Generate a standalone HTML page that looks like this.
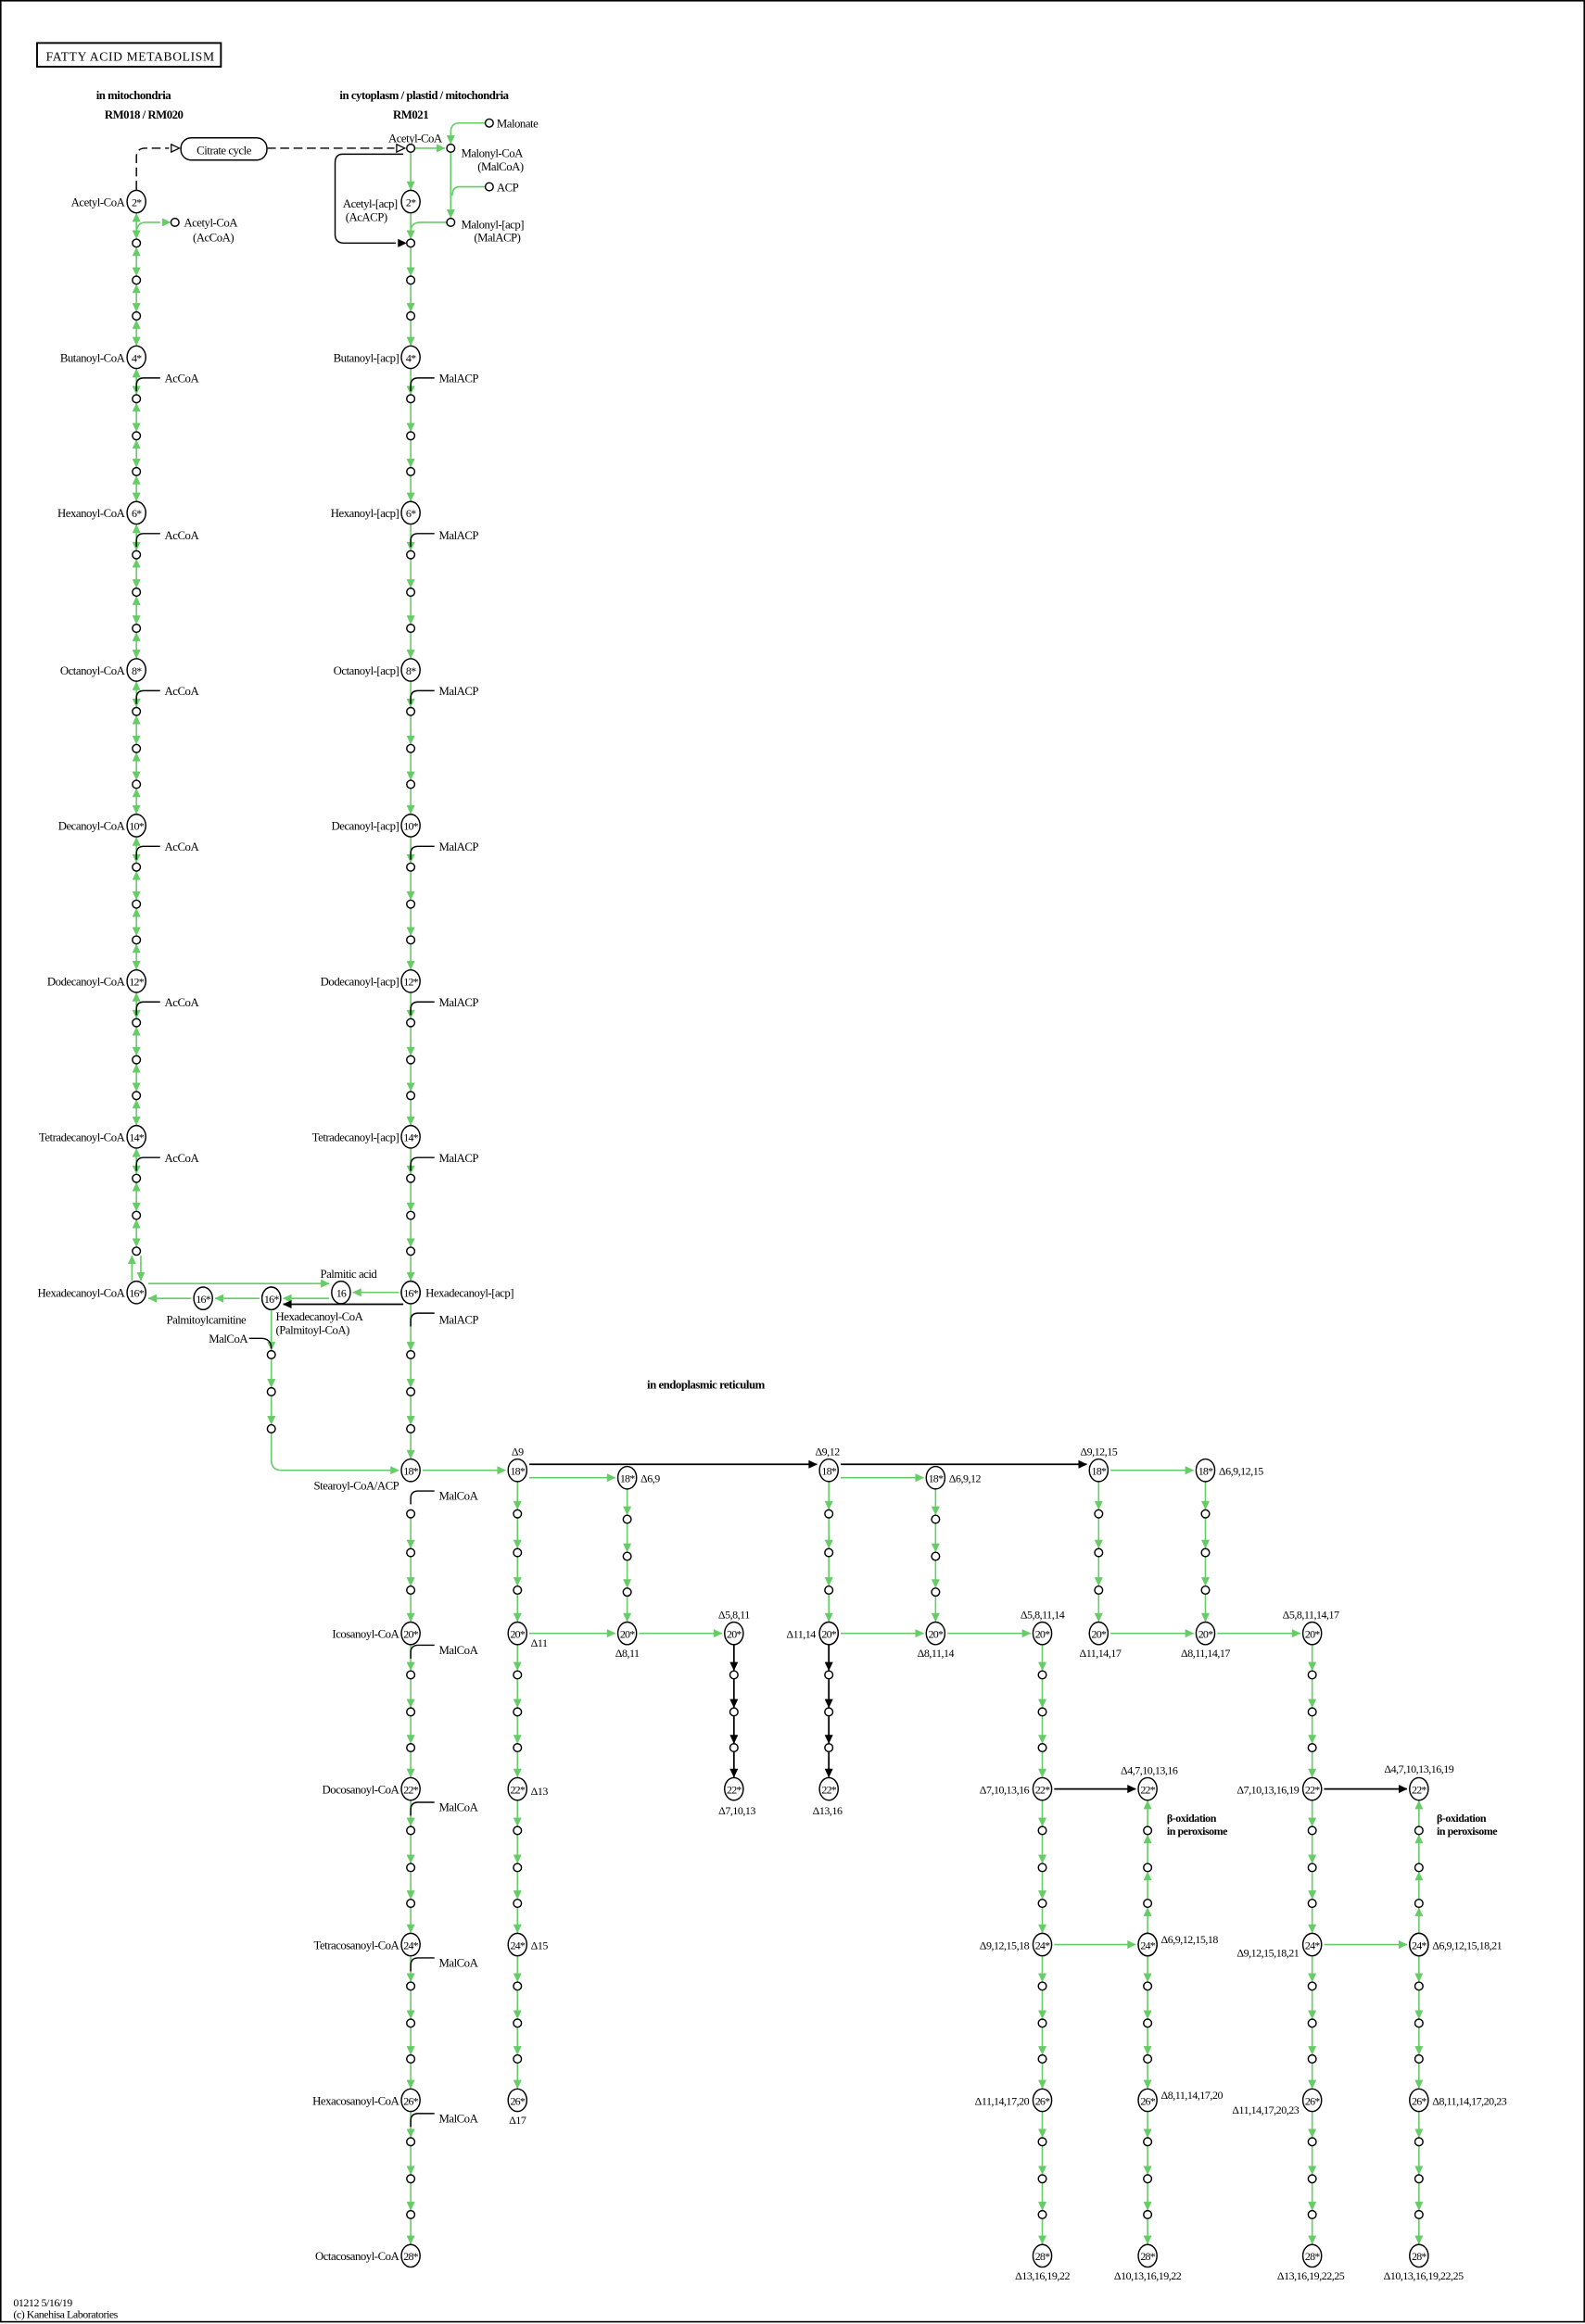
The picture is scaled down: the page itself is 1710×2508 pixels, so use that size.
<!DOCTYPE html>
<html><head><meta charset="utf-8"><style>
html,body{margin:0;padding:0;background:#fff;}
svg{display:block;}
text{font-family:"Liberation Serif",serif;font-size:8px;fill:#000;letter-spacing:-0.3px;}
.b{font-weight:bold;}
.m{text-anchor:middle;}
.e{text-anchor:end;}
.c{font-size:7.5px;}
</style></head><body>
<svg id="s" xmlns="http://www.w3.org/2000/svg" width="1710" height="2508" viewBox="0 0 1069 1568" preserveAspectRatio="none">
<rect x="0.5" y="0.5" width="1068" height="1566" fill="#fff" stroke="#000" stroke-width="1"/>
<g id="g"></g>
<rect x="25" y="29" width="124" height="16" fill="none" stroke="#000" stroke-width="1.2"/>
<text x="31" y="41" style="font-family:'Liberation Serif',serif;font-size:8.5px;letter-spacing:0.4px">FATTY ACID METABOLISM</text>
<text class="b m" x="90" y="67">in mitochondria</text>
<text class="b m" x="97" y="80">RM018 / RM020</text>
<text class="b m" x="286" y="67">in cytoplasm / plastid / mitochondria</text>
<text class="b m" x="277" y="80">RM021</text>
<rect x="122" y="93" width="58" height="15" rx="7" fill="#fff" stroke="#000" stroke-width="0.9"/>
<text class="m" x="151" y="104">Citrate cycle</text>
<text x="335" y="86">Malonate</text>
<text class="e" x="298" y="96">Acetyl-CoA</text>
<text x="311" y="106">Malonyl-CoA</text>
<text class="e" x="353" y="115">(MalCoA)</text>
<text x="335" y="129">ACP</text>
<text x="311" y="154">Malonyl-[acp]</text>
<text class="e" x="351" y="163">(MalACP)</text>
<text x="124" y="153">Acetyl-CoA</text>
<text x="130" y="163">(AcCoA)</text>
<text class="e" x="268" y="140">Acetyl-[acp]</text>
<text x="233" y="149">(AcACP)</text>
<text class="e" x="84" y="139">Acetyl-CoA</text>
<text class="e" x="84" y="244">Butanoyl-CoA</text>
<text class="e" x="84" y="349">Hexanoyl-CoA</text>
<text class="e" x="84" y="455">Octanoyl-CoA</text>
<text class="e" x="84" y="560">Decanoyl-CoA</text>
<text class="e" x="84" y="665">Dodecanoyl-CoA</text>
<text class="e" x="84" y="770">Tetradecanoyl-CoA</text>
<text class="e" x="84" y="875">Hexadecanoyl-CoA</text>
<text x="111" y="258">AcCoA</text><text x="111" y="364">AcCoA</text><text x="111" y="469">AcCoA</text>
<text x="111" y="574">AcCoA</text><text x="111" y="679">AcCoA</text><text x="111" y="784">AcCoA</text>
<text class="e" x="269" y="244">Butanoyl-[acp]</text>
<text class="e" x="269" y="349">Hexanoyl-[acp]</text>
<text class="e" x="269" y="455">Octanoyl-[acp]</text>
<text class="e" x="269" y="560">Decanoyl-[acp]</text>
<text class="e" x="269" y="665">Dodecanoyl-[acp]</text>
<text class="e" x="269" y="770">Tetradecanoyl-[acp]</text>
<text x="287" y="875">Hexadecanoyl-[acp]</text>
<text x="296" y="258">MalACP</text><text x="296" y="364">MalACP</text><text x="296" y="469">MalACP</text>
<text x="296" y="574">MalACP</text><text x="296" y="679">MalACP</text><text x="296" y="784">MalACP</text>
<text x="296" y="893">MalACP</text>
<text class="m" x="235" y="862">Palmitic acid</text>
<text class="m" x="139" y="893">Palmitoylcarnitine</text>
<text x="186" y="891">Hexadecanoyl-CoA</text>
<text x="186" y="900">(Palmitoyl-CoA)</text>
<text class="e" x="167" y="906">MalCoA</text>
<text class="b m" x="476" y="937">in endoplasmic reticulum</text>
<text class="e" x="269" y="1005">Stearoyl-CoA/ACP</text>
<text x="296" y="1012">MalCoA</text><text x="296" y="1116">MalCoA</text><text x="296" y="1222">MalCoA</text>
<text x="296" y="1327">MalCoA</text><text x="296" y="1432">MalCoA</text>
<text class="e" x="269" y="1105">Icosanoyl-CoA</text>
<text class="e" x="269" y="1210">Docosanoyl-CoA</text>
<text class="e" x="269" y="1315">Tetracosanoyl-CoA</text>
<text class="e" x="269" y="1420">Hexacosanoyl-CoA</text>
<text class="e" x="269" y="1525">Octacosanoyl-CoA</text>
<text class="m c" x="349" y="982">Δ9</text>
<text class="m c" x="558" y="982">Δ9,12</text>
<text class="m c" x="741" y="982">Δ9,12,15</text>
<text class="c" x="432" y="1000">Δ6,9</text>
<text class="c" x="640" y="1000">Δ6,9,12</text>
<text class="c" x="822" y="995">Δ6,9,12,15</text>
<text class="c" x="358" y="1111">Δ11</text>
<text class="m c" x="423" y="1118">Δ8,11</text>
<text class="m c" x="495" y="1092">Δ5,8,11</text>
<text class="e c" x="550" y="1105">Δ11,14</text>
<text class="m c" x="631" y="1118">Δ8,11,14</text>
<text class="m c" x="703" y="1092">Δ5,8,11,14</text>
<text class="m c" x="742" y="1118">Δ11,14,17</text>
<text class="m c" x="813" y="1118">Δ8,11,14,17</text>
<text class="m c" x="884" y="1092">Δ5,8,11,14,17</text>
<text class="c" x="358" y="1211">Δ13</text>
<text class="m c" x="497" y="1224">Δ7,10,13</text>
<text class="m c" x="558" y="1224">Δ13,16</text>
<text class="e c" x="694" y="1210">Δ7,10,13,16</text>
<text class="m c" x="775" y="1197">Δ4,7,10,13,16</text>
<text class="e c" x="876" y="1210">Δ7,10,13,16,19</text>
<text class="m c" x="957" y="1196">Δ4,7,10,13,16,19</text>
<text class="b c" x="787" y="1229">β-oxidation</text>
<text class="b c" x="787" y="1238">in peroxisome</text>
<text class="b c" x="969" y="1229">β-oxidation</text>
<text class="b c" x="969" y="1238">in peroxisome</text>
<text class="c" x="358" y="1315">Δ15</text>
<text class="e c" x="694" y="1315">Δ9,12,15,18</text>
<text class="c" x="783" y="1311">Δ6,9,12,15,18</text>
<text class="e c" x="876" y="1320">Δ9,12,15,18,21</text>
<text class="c" x="966" y="1315">Δ6,9,12,15,18,21</text>
<text class="m c" x="349" y="1433">Δ17</text>
<text class="e c" x="694" y="1420">Δ11,14,17,20</text>
<text class="c" x="783" y="1416">Δ8,11,14,17,20</text>
<text class="e c" x="876" y="1426">Δ11,14,17,20,23</text>
<text class="c" x="966" y="1420">Δ8,11,14,17,20,23</text>
<text class="m c" x="703" y="1538">Δ13,16,19,22</text>
<text class="m c" x="774" y="1538">Δ10,13,16,19,22</text>
<text class="m c" x="884" y="1538">Δ13,16,19,22,25</text>
<text class="m c" x="960" y="1538">Δ10,13,16,19,22,25</text>
<text class="c" x="9" y="1556">01212 5/16/19</text>
<text class="c" x="9" y="1564">(c) Kanehisa Laboratories</text>
<g id="n"></g>
</svg>
<script>
var G="#66cc66",g=document.getElementById('g'),nd=document.getElementById('n'),NS="http://www.w3.org/2000/svg";
function el(p,t,a){var e=document.createElementNS(NS,t);for(var k in a)e.setAttribute(k,a[k]);p.appendChild(e);return e;}
function head(x,y,dx,dy,c,open){var l=Math.hypot(dx,dy);dx/=l;dy/=l;var L=5.5,W=2.6;
 var bx=x-dx*L,by=y-dy*L;el(g,'polygon',{points:x+','+y+' '+(bx-dy*W)+','+(by+dx*W)+' '+(bx+dy*W)+','+(by-dx*W),fill:open?'#fff':c,stroke:c,'stroke-width':open?0.8:0.3});}
function arr(x1,y1,x2,y2,c,both,dash){c=c||G;el(g,'line',{x1:x1,y1:y1,x2:x2,y2:y2,stroke:c,'stroke-width':c==G?1:1.1,'stroke-dasharray':dash||'none'});
 head(x2,y2,x2-x1,y2-y1,c);if(both)head(x1,y1,x1-x2,y1-y2,c);}
function sm(x,y){el(nd,'circle',{cx:x,cy:y,r:2.7,fill:'#fff',stroke:'#000','stroke-width':0.9});}
function bg(x,y,t){el(nd,'ellipse',{cx:x,cy:y,rx:6.3,ry:7.6,fill:'#fff',stroke:'#000','stroke-width':0.9});
 var e=el(nd,'text',{x:x,y:y+3,'class':'m',style:'font-size:7.5px;letter-spacing:-0.5px'});e.textContent=t;}
function chain(x,pts,c,mode){for(var i=0;i<pts.length;i++){var p=pts[i];if(p[1]=='s')sm(x,p[0]);else bg(x,p[0],p[1]);}
 for(i=0;i<pts.length-1;i++){var a=pts[i],b=pts[i+1],ra=a[1]=='s'?3:8,rb=b[1]=='s'?3:8;
  if(mode=='up')arr(x,b[0]-rb,x,a[0]+ra,c);else arr(x,a[0]+ra,x,b[0]-rb,c,mode=='both');}}
function seg(y0,y1,l0,l1){var d=y1-y0;return [[y0,l0],[y0+d*0.267,'s'],[y0+d*0.505,'s'],[y0+d*0.735,'s'],[y1,l1]];}
function multi(ys,labs){var r=[];for(var i=0;i<ys.length-1;i++){var s=seg(ys[i],ys[i+1],labs[i],labs[i+1]);if(i>0)s.shift();r=r.concat(s);}return r;}
function hook(x,y){el(g,'path',{d:'M'+x+' '+(y+9)+' L'+x+' '+(y+5)+' Q'+x+' '+y+' '+(x+5)+' '+y+' L'+(x+16)+' '+y,fill:'none',stroke:'#000','stroke-width':0.9});}
var LY=[136,241,346,452,557,662,767,872],LL=['2*','4*','6*','8*','10*','12*','14*','16*'];
var lp=multi(LY.slice(0,7),LL.slice(0,7));chain(92,lp,G,'both');
var s7=seg(767,872,'14*','16*');sm(92,s7[1][0]);sm(92,s7[2][0]);sm(92,s7[3][0]);bg(92,872,'16*');
for(var i=0;i<3;i++)arr(92,s7[i][0]+(i?3:8),92,s7[i+1][0]-3,G,true);
arr(89,864,89,s7[3][0]+3,G);arr(95,s7[3][0]+3,95,864,G);
for(i=1;i<7;i++)hook(92,LY[i]+14);
var RL=['2*','4*','6*','8*','10*','12*','14*','16*'];chain(277,multi(LY,RL),G);
sm(277,100);arr(277,103,277,128);
chain(277,[[872,'16*'],[914,'s'],[939,'s'],[964,'s'],[992,'18*']],G);
for(i=1;i<8;i++)hook(277,LY[i]+14);
var EY=[992,1102,1207,1312,1417,1522];
chain(277,multi(EY,['18*','20*','22*','24*','26*','28*']).slice(1),G);
hook(277,1006);hook(277,1110);hook(277,1216);hook(277,1321);hook(277,1426);
el(g,'path',{d:'M92 128 L92 106 Q92 100 98 100 L114 100',fill:'none',stroke:'#000','stroke-width':0.9,'stroke-dasharray':'6,3'});head(121,100,1,0,'#000',true);
el(g,'line',{x1:180,y1:100,x2:266,y2:100,stroke:'#000','stroke-width':0.9,'stroke-dasharray':'6,3'});head(273,100,1,0,'#000',true);
sm(304,100);sm(330,83);sm(330,126);sm(304,150);sm(118,150);
arr(280,100,300,100);
el(g,'path',{d:'M327 83 L310 83 Q304 83 304 89',fill:'none',stroke:G});arr(304,89,304,97);
arr(304,103,304,147);
el(g,'path',{d:'M327 126 L310 126 Q305 126 305 132',fill:'none',stroke:G});
el(g,'path',{d:'M301 150 L284 150 Q277 150 277 156',fill:'none',stroke:G});
el(g,'path',{d:'M272 104 L231 104 Q226 104 226 110 L226 158 Q226 164 232 164 L267 164',fill:'none',stroke:'#000','stroke-width':0.9});head(274,164,1,0,'#000');
el(g,'path',{d:'M92 158 Q92 150 98 150 L108 150',fill:'none',stroke:G});head(115,150,1,0,G);
bg(137,876,'16*');bg(183,876,'16*');bg(230,872,'16');
arr(100,866,222,866);arr(269,872,238,872);arr(222,876,191,876);arr(272,880,191,880,'#000');arr(175,876,145,876);arr(129,876,100,876);
chain(183,[[876,'16*'],[914,'s'],[939,'s'],[964,'s']],G);
el(g,'path',{d:'M168 903 L176 903 Q183 903 183 910',fill:'none',stroke:'#000','stroke-width':0.9});
el(g,'path',{d:'M183 967 L183 985 Q183 992 190 992 L269 992',fill:'none',stroke:G});head(269,992,1,0,G);
function col(x,y0,y1,c,mode,l0){var ys=EY.filter(function(v){return v>=y0-6&&v<=y1+6;});ys[0]=y0;chain(x,multi(ys,l0),c,mode);}
col(349,992,1417,G,'',['18*','20*','22*','24*','26*']);
col(423,997,1102,G,'',['18*','20*']);
col(495,1102,1207,'#000','',['20*','22*']);
col(559,992,1102,G,'',['18*','20*']);
col(559,1102,1207,'#000','',['20*','22*']);
col(631,997,1102,G,'',['18*','20*']);
col(703,1102,1522,G,'',['20*','22*','24*','26*','28*']);
col(774,1207,1312,G,'up',['22*','24*']);
col(774,1312,1522,G,'',['24*','26*','28*']);
col(741,992,1102,G,'',['18*','20*']);
col(813,992,1102,G,'',['18*','20*']);
col(885,1102,1522,G,'',['20*','22*','24*','26*','28*']);
col(957,1207,1312,G,'up',['22*','24*']);
col(957,1312,1522,G,'',['24*','26*','28*']);
arr(285,992,341,992);
arr(357,988,551,988,'#000');arr(567,988,733,988,'#000');
arr(357,997,415,997);arr(567,997,623,997);arr(749,992,805,992);
arr(357,1102,415,1102);arr(431,1102,487,1102);arr(567,1102,623,1102);arr(639,1102,695,1102);
arr(749,1102,805,1102);arr(821,1102,877,1102);
arr(711,1207,766,1207,'#000');arr(893,1207,949,1207,'#000');
arr(711,1312,766,1312);arr(893,1312,949,1312);
</script>
</body></html>
